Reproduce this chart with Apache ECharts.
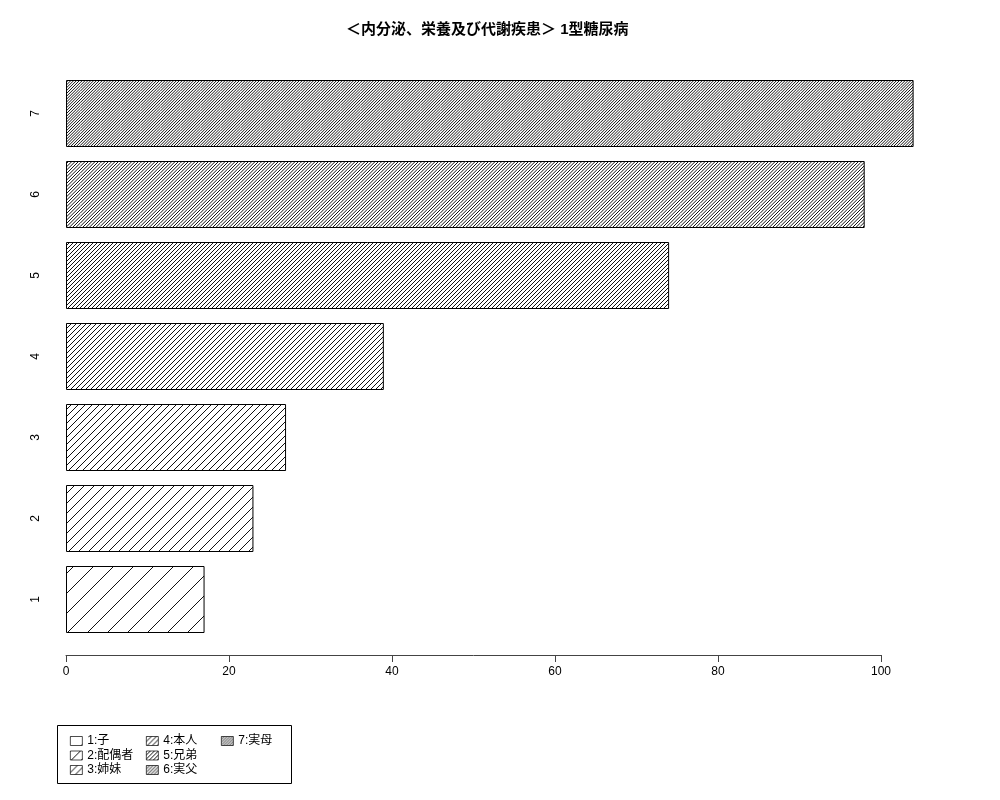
<!DOCTYPE html>
<html>
<head>
<meta charset="utf-8">
<script src="https://cdn.jsdelivr.net/npm/echarts@6/dist/echarts.min.js"></script>
<style>
  html, body { margin: 0; padding: 0; background: #fff; }
  #main { width: 1000px; height: 800px; }
</style>
</head>
<body>
<div id="main"></div>
<script>
const categories = ['1', '2', '3', '4', '5', '6', '7'];
const values = [17, 23, 27, 39, 74, 98, 104];
const legendNames = ['1:子', '2:配偶者', '3:姉妹', '4:本人', '5:兄弟', '6:実父', '7:実母'];
const hatchLines = [1, 2, 3, 4, 5, 6, 7]; // hatch density, lines per ~20px
const titleText = '＜内分泌、栄養及び代謝疾患＞ 1型糖尿病';

const FONT = '"Liberation Sans", "Noto Sans CJK JP", sans-serif';

// diagonal hatching "/" as a repeating canvas tile
function hatch(n) {
  const T = n <= 5 ? n * Math.round(20 / n) : 20;
  const c = document.createElement('canvas');
  c.width = T; c.height = T;
  const ctx = c.getContext('2d');
  ctx.fillStyle = '#fff';
  ctx.fillRect(0, 0, T, T);
  ctx.strokeStyle = '#111';
  ctx.lineWidth = 1;
  const step = T / n;
  for (let k = 0; k <= 2 * n; k++) {
    const d = k * step;
    ctx.beginPath();
    ctx.moveTo(d, 0);
    ctx.lineTo(0, d);
    ctx.stroke();
  }
  return { image: c, repeat: 'repeat' };
}

const series = categories.map((cat, i) => ({
  name: legendNames[i],
  type: 'bar',
  stack: 'all',
  xAxisIndex: 0,
  yAxisIndex: 0,
  barWidth: 67,
  silent: true,
  itemStyle: { color: hatch(hatchLines[i]), borderColor: '#000', borderWidth: 1 },
  data: categories.map((c, j) => (j === i ? values[i] : '-'))
}));

function legendCol(names, left) {
  return {
    orient: 'vertical',
    left: left,
    top: 735,
    padding: 0,
    itemWidth: 12,
    itemHeight: 9,
    itemGap: 2.5,
    selectedMode: false,
    icon: 'rect',
    itemStyle: { borderWidth: 0.7 },
    textStyle: { fontFamily: FONT, fontSize: 12, color: '#000' },
    data: names
  };
}

const chart = echarts.init(document.getElementById('main'));
chart.setOption({
  animation: false,
  backgroundColor: '#fff',
  title: {
    text: titleText,
    left: 346,
    top: 22,
    padding: 0,
    textStyle: { fontFamily: FONT, fontSize: 15, fontWeight: 'bold', color: '#000' }
  },
  legend: [
    legendCol(legendNames.slice(0, 3), 70),
    legendCol(legendNames.slice(3, 6), 146),
    legendCol(legendNames.slice(6), 221)
  ],
  grid: [
    { left: 66, top: 73, width: 896.5, height: 567 },
    { left: 66, top: 600, width: 815, height: 55 }
  ],
  xAxis: [
    { gridIndex: 0, type: 'value', min: 0, max: 110, show: false },
    {
      gridIndex: 1, type: 'value', min: 0, max: 100, interval: 20,
      axisLine: { show: true, lineStyle: { color: '#444', width: 1 } },
      axisTick: { show: true, length: 7, lineStyle: { color: '#444' } },
      axisLabel: { fontFamily: FONT, fontSize: 12, color: '#000', margin: 11 },
      splitLine: { show: false }
    }
  ],
  yAxis: [
    {
      gridIndex: 0, type: 'category', data: categories,
      axisLine: { show: false },
      axisTick: { show: false },
      axisLabel: { rotate: 90, fontFamily: FONT, fontSize: 12, color: '#000', margin: 24 }
    },
    { gridIndex: 1, type: 'value', show: false }
  ],
  graphic: [
    {
      type: 'rect',
      shape: { x: 57.5, y: 725.5, width: 234, height: 58 },
      style: { fill: 'none', stroke: '#000', lineWidth: 1 },
      silent: true
    }
  ],
  series: series
});
</script>
</body>
</html>
